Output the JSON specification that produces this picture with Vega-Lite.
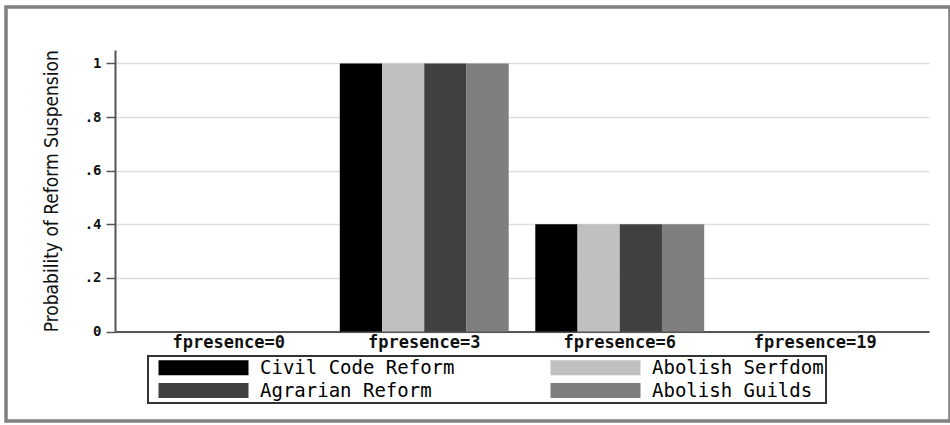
{
  "$schema": "https://vega.github.io/schema/vega-lite/v6.json",
  "width": 944,
  "height": 414,
  "autosize": {"type": "none"},
  "padding": {"left": 6, "top": 7, "right": 0, "bottom": 4},
  "background": "white",
  "config": {
    "view": {"stroke": "#808080", "strokeWidth": 3.5, "fill": "white"},
    "axis": {"domainColor": "#555555", "domainWidth": 2, "tickColor": "#555555", "tickWidth": 1.5}
  },
  "data": {
    "values": [
      {"group": "fpresence=0", "reform": "Civil Code Reform", "prob": 0},
      {"group": "fpresence=0", "reform": "Abolish Serfdom", "prob": 0},
      {"group": "fpresence=0", "reform": "Agrarian Reform", "prob": 0},
      {"group": "fpresence=0", "reform": "Abolish Guilds", "prob": 0},
      {"group": "fpresence=3", "reform": "Civil Code Reform", "prob": 1},
      {"group": "fpresence=3", "reform": "Abolish Serfdom", "prob": 1},
      {"group": "fpresence=3", "reform": "Agrarian Reform", "prob": 1},
      {"group": "fpresence=3", "reform": "Abolish Guilds", "prob": 1},
      {"group": "fpresence=6", "reform": "Civil Code Reform", "prob": 0.4},
      {"group": "fpresence=6", "reform": "Abolish Serfdom", "prob": 0.4},
      {"group": "fpresence=6", "reform": "Agrarian Reform", "prob": 0.4},
      {"group": "fpresence=6", "reform": "Abolish Guilds", "prob": 0.4},
      {"group": "fpresence=19", "reform": "Civil Code Reform", "prob": 0},
      {"group": "fpresence=19", "reform": "Abolish Serfdom", "prob": 0},
      {"group": "fpresence=19", "reform": "Agrarian Reform", "prob": 0},
      {"group": "fpresence=19", "reform": "Abolish Guilds", "prob": 0}
    ]
  },
  "mark": {"type": "bar"},
  "encoding": {
    "x": {
      "field": "group",
      "type": "nominal",
      "sort": ["fpresence=0", "fpresence=3", "fpresence=6", "fpresence=19"],
      "scale": {"range": [109, 923], "paddingInner": 0.136, "paddingOuter": 0.15},
      "axis": {
        "title": null,
        "offset": -89.5,
        "ticks": false,
        "labelAngle": 0,
        "labelFont": "DejaVu Sans Mono",
        "labelFontWeight": "bold",
        "labelFontSize": 17,
        "labelColor": "#111111",
        "labelPadding": 3,
        "grid": false
      }
    },
    "xOffset": {
      "field": "reform",
      "type": "nominal",
      "sort": ["Civil Code Reform", "Abolish Serfdom", "Agrarian Reform", "Abolish Guilds"],
      "scale": {"paddingInner": 0, "paddingOuter": 0}
    },
    "y": {
      "field": "prob",
      "type": "quantitative",
      "scale": {"domain": [0, 1.05], "range": [324.5, 43], "nice": false, "zero": true},
      "axis": {
        "title": "Probability of Reform Suspension",
        "titleFont": "DejaVu Sans Condensed, DejaVu Sans",
        "titleFontSize": 19,
        "titleFontWeight": "normal",
        "titleColor": "#111111",
        "titlePadding": 23,
        "offset": -109,
        "values": [0, 0.2, 0.4, 0.6, 0.8, 1],
        "labelExpr": "replace(format(datum.value, '.1~f'), '0.', '.')",
        "labelFont": "DejaVu Sans Mono",
        "labelFontWeight": "bold",
        "labelFontSize": 14,
        "labelColor": "#111111",
        "labelPadding": 5,
        "tickSize": 9,
        "grid": true,
        "gridColor": "#dedede",
        "gridWidth": 1.5
      }
    },
    "color": {
      "field": "reform",
      "type": "nominal",
      "sort": ["Civil Code Reform", "Abolish Serfdom", "Agrarian Reform", "Abolish Guilds"],
      "scale": {
        "domain": ["Civil Code Reform", "Abolish Serfdom", "Agrarian Reform", "Abolish Guilds"],
        "range": ["#000000", "#c0c0c0", "#404040", "#7f7f7f"]
      },
      "legend": {
        "title": null,
        "orient": "none",
        "direction": "horizontal",
        "legendX": 142,
        "legendY": 349,
        "columns": 2,
        "symbolType": "M-1,-0.8333H9V0.8333H-1Z",
        "symbolSize": 324,
        "symbolStrokeWidth": 0,
        "symbolOpacity": 1,
        "symbolOffset": 8,
        "labelFont": "DejaVu Sans Mono",
        "labelFontSize": 19,
        "labelColor": "#000000",
        "labelLimit": 400,
        "labelOffset": 83,
        "columnPadding": 87,
        "rowPadding": 3,
        "padding": 2,
        "strokeColor": "#333333",
        "fillColor": "white",
        "encode": {"legend": {"update": {"strokeWidth": {"value": 2}}}}
      }
    }
  }
}
